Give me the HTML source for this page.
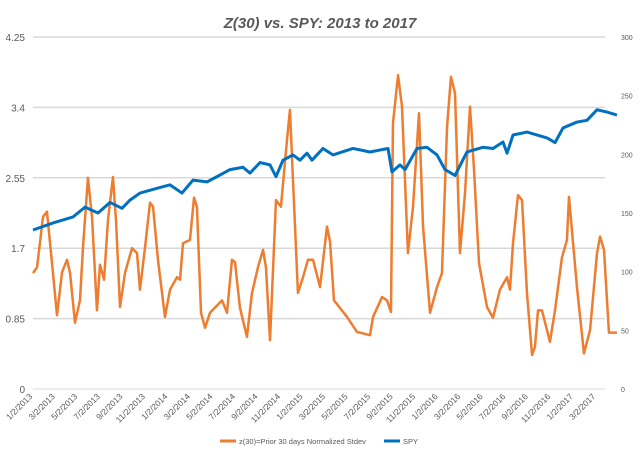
<!DOCTYPE html>
<html><head><meta charset="utf-8"><style>
body{margin:0;background:#fff;}
svg{font-family:"Liberation Sans",sans-serif;}
</style></head><body>
<svg width="640" height="459" viewBox="0 0 640 459" id="c">
<rect width="640" height="459" fill="#fff"/>
<text x="320" y="28" text-anchor="middle" font-size="15" font-weight="bold" font-style="italic" fill="#595959">Z(30) vs. SPY: 2013 to 2017</text>
<g id="grid"></g><g id="axes"></g><g id="series"></g>
<g>
<line x1="220" y1="441" x2="236" y2="441" stroke="#ED7D31" stroke-width="3"/>
<text x="239" y="444" font-size="7.5" fill="#595959">z(30)=Prior 30 days Normalized Stdev</text>
<line x1="384" y1="441" x2="400" y2="441" stroke="#0070C0" stroke-width="3"/>
<text x="403" y="444" font-size="7.5" fill="#595959">SPY</text>
</g>
</svg>
<script>
const leftTicks=[0,0.85,1.7,2.55,3.4,4.25];
const leftTickLabels=["0","0.85","1.7","2.55","3.4","4.25"];
const rightTicks=[0,50,100,150,200,250,300];
const xTickLabels=["1/2/2013","3/2/2013","5/2/2013","7/2/2013","9/2/2013","11/2/2013","1/2/2014","3/2/2014","5/2/2014","7/2/2014","9/2/2014","11/2/2014","1/2/2015","3/2/2015","5/2/2015","7/2/2015","9/2/2015","11/2/2015","1/2/2016","3/2/2016","5/2/2016","7/2/2016","9/2/2016","11/2/2016","1/2/2017","3/2/2017"];
const zMonths=[0,.36,.89,1.24,1.69,2.13,2.58,3.02,3.29,3.73,4.17,4.44,4.88,5.24,5.68,5.95,6.31,6.66,7.1,7.37,7.73,8.17,8.79,9.24,9.5,9.95,10.39,10.66,11.1,11.72,12.17,12.79,13.06,13.32,13.94,14.3,14.56,14.92,15.28,15.72,16.79,17.23,17.67,17.94,18.38,19.0,19.45,19.98,20.43,20.69,21.05,21.58,22.02,22.56,22.82,23.09,23.53,23.98,24.42,24.87,25.49,26.11,26.38,26.73,27.89,28.77,29.93,30.2,31.0,31.44,31.79,31.97,32.42,32.77,33.3,33.75,34.28,34.64,35.26,35.88,36.32,36.77,37.12,37.48,37.92,38.37,38.81,39.17,39.61,40.32,40.85,41.47,42.1,42.36,42.63,43.07,43.43,43.87,44.32,44.58,44.85,45.2,45.91,46.36,46.98,47.42,47.6,48.31,48.93,49.47,50.09,50.36,50.71,51.15,51.86];
const zValues=[1.40,1.47,2.08,2.14,1.52,0.89,1.41,1.56,1.40,0.80,1.07,1.71,2.55,2.08,0.95,1.50,1.32,2.04,2.56,2.04,0.99,1.40,1.70,1.64,1.20,1.71,2.25,2.20,1.56,0.87,1.20,1.35,1.32,1.76,1.80,2.31,2.20,0.92,0.74,0.92,1.07,0.92,1.56,1.53,0.98,0.63,1.16,1.47,1.68,1.47,0.59,2.28,2.20,3.01,3.37,2.52,1.16,1.35,1.56,1.56,1.23,1.96,1.78,1.07,0.87,0.69,0.65,0.87,1.11,1.07,0.93,3.21,3.79,3.41,1.64,2.20,3.33,1.96,0.92,1.23,1.40,3.16,3.77,3.57,1.64,2.37,3.41,2.64,1.52,0.99,0.86,1.20,1.35,1.20,1.76,2.34,2.28,1.16,0.41,0.51,0.95,0.95,0.57,0.95,1.59,1.80,2.32,1.23,0.43,0.71,1.64,1.84,1.68,0.68,0.68];
const spyMonths=[0,1.78,3.55,4.62,5.77,6.84,7.9,8.61,9.5,11.01,12.17,13.23,14.21,15.45,16.34,17.5,18.65,19.27,20.16,21.05,21.58,22.2,23.09,23.71,24.33,24.78,25.75,26.64,28.42,29.93,31.53,31.88,32.59,33.04,34.1,34.99,35.88,36.59,37.48,38.54,39.96,40.85,41.74,42.1,42.63,43.87,45.65,46.36,47.07,48.31,49.2,50.09,50.98,51.86];
const spyValues=[135.5,141.5,146.6,155,150,159,154,161,167,171,174,167,178,176.5,181,187,189,184,193,191,181,195,199.5,195,201,195,205,199.5,205,202,205,185,191,187,205,206,199.5,187,182,202,206,205,210.5,201,216.5,219,214,210,222.5,227.5,229,238,236,233.5];
const NS="http://www.w3.org/2000/svg";
const X0=33,PX=11.26,Y0=389,Y1=37;
const xS=m=>X0+m*PX;
const yL=v=>Y0-(v/4.25)*(Y0-Y1);
const yR=v=>Y0-(v/300)*(Y0-Y1);
function mk(t,a,p){const e=document.createElementNS(NS,t);for(const k in a)e.setAttribute(k,a[k]);document.getElementById(p).appendChild(e);return e;}
leftTicks.forEach((v,i)=>{
 const g=mk('line',{x1:33,x2:605,y1:yL(v),y2:yL(v),stroke:'#d9d9d9','stroke-width':i==0?1:1.5},'grid');
 
 
 const t=mk('text',{x:25,y:yL(v)+4,'text-anchor':'end','font-size':10,fill:'#595959'},'axes');
 t.textContent=leftTickLabels[i];
 
 
});
rightTicks.forEach(v=>{
 const t=mk('text',{x:621,y:yR(v)+3,'font-size':7,fill:'#595959'},'axes');
 t.textContent=String(v);
 
 
});
xTickLabels.forEach((s,i)=>{
 const x=xS(i*2),y=397;
 const t=mk('text',{x:x,y:y,'text-anchor':'end','font-size':8.5,fill:'#595959',transform:`rotate(-45 ${x} ${y})`},'axes');
 t.textContent=s;
 
 
});
const zp=mk('polyline',{points:zMonths.map((m,i)=>xS(m)+','+yL(zValues[i])).join(' '),fill:'none',stroke:'#ED7D31','stroke-width':2.5,'stroke-linejoin':'round'},'series');


const sp=mk('polyline',{points:spyMonths.map((m,i)=>xS(m)+','+yR(spyValues[i])).join(' '),fill:'none',stroke:'#0070C0','stroke-width':3,'stroke-linejoin':'round'},'series');


</script>
</body></html>
